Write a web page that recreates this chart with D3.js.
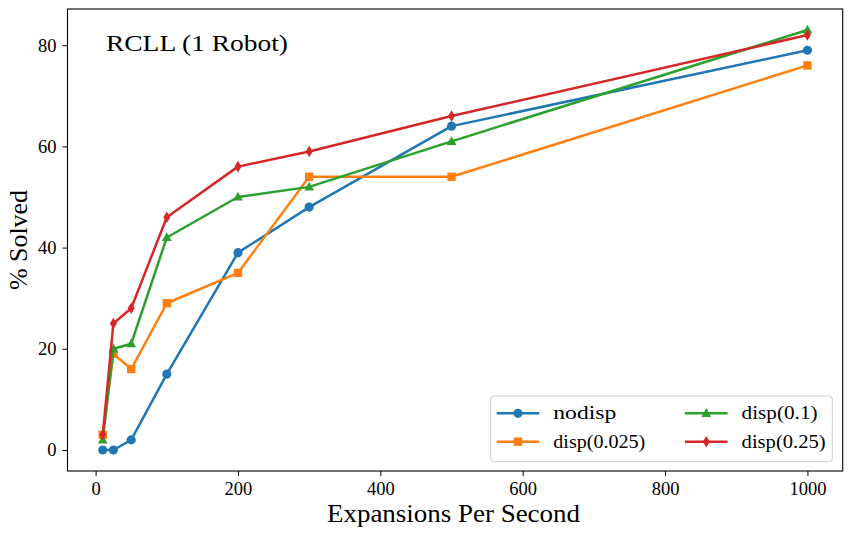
<!DOCTYPE html>
<html>
<head>
<meta charset="utf-8">
<script src="https://cdn.jsdelivr.net/npm/d3@7"></script>
<style>
  body { margin: 0; background: #fff; }
</style>
</head>
<body>
<div id="chart"></div>
<script>
const expansions = [10, 25, 50, 100, 200, 300, 500, 1000];
const nodisp   = [0, 0, 2, 15, 39, 48, 64, 79];
const disp025  = [3, 19, 16, 29, 35, 54, 54, 76];
const disp01   = [2, 20, 21, 42, 50, 52, 61, 83];
const disp025b = [3, 25, 28, 46, 56, 59, 66, 82];
const seriesNames = ["nodisp", "disp(0.025)", "disp(0.1)", "disp(0.25)"];
const xTicks = [0, 200, 400, 600, 800, 1000];
const yTicks = [0, 20, 40, 60, 80];

const FONT = "'Liberation Serif', 'DejaVu Serif', serif";

const series = [
  { name: seriesNames[0], values: nodisp,   color: "#1f77b4", marker: "circle" },
  { name: seriesNames[1], values: disp025,  color: "#ff7f0e", marker: "square" },
  { name: seriesNames[2], values: disp01,   color: "#2ca02c", marker: "triangle" },
  { name: seriesNames[3], values: disp025b, color: "#d62728", marker: "diamond" }
];

const width = 852, height = 537;
const margin = { top: 9, right: 9.3, bottom: 66, left: 67.5 };
const innerW = width - margin.left - margin.right;
const innerH = height - margin.top - margin.bottom;

const svg = d3.select("#chart").append("svg")
  .attr("width", width)
  .attr("height", height)
  .style("font-family", FONT);

const g = svg.append("g")
  .attr("transform", `translate(${margin.left},${margin.top})`);

// matplotlib-style 5% margins
const xExt = d3.extent(expansions);
const xPad = (xExt[1] - xExt[0]) * 0.05;
const x = d3.scaleLinear().domain([xExt[0] - xPad, xExt[1] + xPad]).range([0, innerW]);
const allY = series.flatMap(s => s.values);
const yExt = d3.extent(allY);
const yPad = (yExt[1] - yExt[0]) * 0.05;
const y = d3.scaleLinear().domain([yExt[0] - yPad, yExt[1] + yPad]).range([innerH, 0]);

// axes
const xAxis = g.append("g")
  .attr("transform", `translate(0,${innerH})`)
  .call(d3.axisBottom(x).tickValues(xTicks).tickSize(5).tickPadding(6).tickFormat(d3.format("d")));
const yAxis = g.append("g")
  .call(d3.axisLeft(y).tickValues(yTicks).tickSize(5).tickPadding(6).tickFormat(d3.format("d")));
[xAxis, yAxis].forEach(a => {
  a.attr("font-family", FONT).attr("font-size", 18.5);
  a.select(".domain").remove();
  a.selectAll("line").attr("stroke", "#000").attr("stroke-width", 1);
  a.selectAll("text").attr("fill", "#000");
});

// frame
g.append("rect")
  .attr("width", innerW).attr("height", innerH)
  .attr("fill", "none").attr("stroke", "#000").attr("stroke-width", 1.1);

function markerPath(type) {
  if (type === "circle") return d3.symbol(d3.symbolCircle, 66)();
  if (type === "square") return "M-4.2,-4.2H4.2V4.2H-4.2Z";
  if (type === "triangle") return "M0,-5.2L4.9,3.6H-4.9Z";
  return "M0,-5.8L3.5,0L0,5.8L-3.5,0Z";
}

const line = d3.line().x(d => x(d[0])).y(d => y(d[1]));

series.forEach(s => {
  const pts = expansions.map((e, i) => [e, s.values[i]]);
  g.append("path")
    .datum(pts)
    .attr("d", line)
    .attr("fill", "none")
    .attr("stroke", s.color)
    .attr("stroke-width", 2.5)
    .attr("stroke-linejoin", "round");
  g.selectAll(null)
    .data(pts)
    .enter().append("path")
    .attr("d", markerPath(s.marker))
    .attr("transform", d => `translate(${x(d[0])},${y(d[1])})`)
    .attr("fill", s.color);
});

// axis labels
svg.append("text")
  .attr("x", 453.5).attr("y", 522)
  .attr("text-anchor", "middle")
  .attr("textLength", 253).attr("lengthAdjust", "spacingAndGlyphs")
  .attr("font-size", 25)
  .text("Expansions Per Second");

svg.append("text")
  .attr("transform", "translate(27,240) rotate(-90)")
  .attr("text-anchor", "middle")
  .attr("textLength", 100).attr("lengthAdjust", "spacingAndGlyphs")
  .attr("font-size", 25)
  .text("% Solved");

// annotation
svg.append("text")
  .attr("x", 106).attr("y", 51)
  .attr("textLength", 182).attr("lengthAdjust", "spacingAndGlyphs")
  .attr("font-size", 23)
  .text("RCLL (1 Robot)");

// legend
const legend = svg.append("g").attr("transform", "translate(490.7,396)");
legend.append("rect")
  .attr("width", 341.6).attr("height", 65.7)
  .attr("rx", 3).attr("ry", 3)
  .attr("fill", "#fff").attr("fill-opacity", 0.8)
  .attr("stroke", "#ccc").attr("stroke-width", 1);

const legendPos = [
  { dx: 6, dy: 17.3, w: 63 },
  { dx: 6, dy: 45.7, w: 92 },
  { dx: 194.3, dy: 17.3, w: 76 },
  { dx: 194.3, dy: 45.7, w: 84 }
];
series.forEach((s, i) => {
  const p = legendPos[i];
  const item = legend.append("g").attr("transform", `translate(${p.dx},${p.dy})`);
  item.append("line")
    .attr("x1", 0).attr("x2", 42.6)
    .attr("stroke", s.color).attr("stroke-width", 2.5);
  item.append("path")
    .attr("d", markerPath(s.marker))
    .attr("transform", "translate(21.3,0)")
    .attr("fill", s.color);
  item.append("text")
    .attr("x", 56.6).attr("y", 6)
    .attr("font-size", 19)
    .attr("textLength", p.w).attr("lengthAdjust", "spacingAndGlyphs")
    .text(s.name);
});
</script>
</body>
</html>
